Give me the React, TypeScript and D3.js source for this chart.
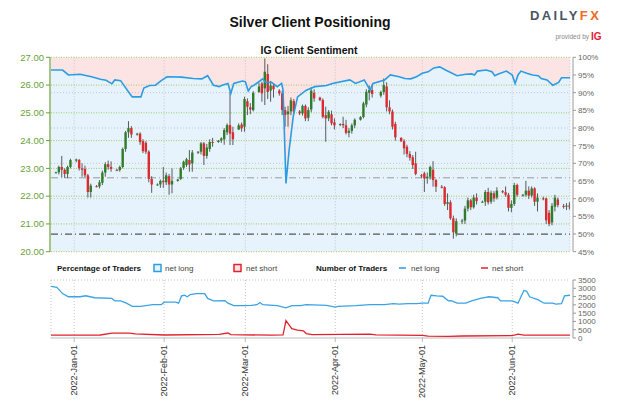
import React from 'react';
import * as d3 from 'd3';

// [date, open, high, low, close]
const candles: [string, number, number, number, number][] = [
  ['2021-12-26', 22.85, 22.88, 22.82, 22.86], ['2021-12-27', 22.86, 23.10, 22.78, 23.05], ['2021-12-28', 23.05, 23.45, 22.68, 22.95],
  ['2021-12-29', 22.95, 23.00, 22.65, 22.80], ['2021-12-30', 22.80, 23.10, 22.65, 23.05], ['2021-12-31', 23.05, 23.35, 23.00, 23.30],
  ['2022-01-02', 23.28, 23.35, 23.22, 23.32], ['2022-01-03', 23.30, 23.34, 22.92, 23.00], ['2022-01-04', 23.00, 23.18, 22.70, 22.95],
  ['2022-01-05', 22.98, 23.10, 22.68, 22.75], ['2022-01-06', 22.75, 22.80, 21.95, 22.15], ['2022-01-07', 22.15, 22.45, 21.95, 22.38],
  ['2022-01-09', 22.36, 22.40, 22.32, 22.35], ['2022-01-10', 22.35, 22.58, 22.28, 22.50], ['2022-01-11', 22.48, 22.92, 22.40, 22.85],
  ['2022-01-12', 22.85, 23.22, 22.70, 23.15], ['2022-01-13', 23.15, 23.28, 22.95, 23.05], ['2022-01-14', 23.05, 23.25, 22.88, 22.98],
  ['2022-01-16', 22.95, 22.98, 22.90, 22.94], ['2022-01-17', 22.94, 23.10, 22.88, 23.05], ['2022-01-18', 23.05, 23.75, 23.00, 23.70],
  ['2022-01-19', 23.70, 24.35, 23.60, 24.30], ['2022-01-20', 24.30, 24.70, 24.10, 24.45], ['2022-01-21', 24.45, 24.52, 24.10, 24.22],
  ['2022-01-23', 24.22, 24.28, 24.18, 24.25], ['2022-01-24', 24.25, 24.30, 23.85, 23.95], ['2022-01-25', 23.98, 24.05, 23.55, 23.62],
  ['2022-01-26', 23.92, 23.98, 23.52, 23.60], ['2022-01-27', 23.60, 23.65, 22.50, 22.62], ['2022-01-28', 22.62, 22.72, 22.12, 22.42],
  ['2022-01-30', 22.42, 22.46, 22.38, 22.42], ['2022-01-31', 22.42, 22.60, 22.30, 22.55], ['2022-02-01', 22.55, 23.05, 22.30, 22.50],
  ['2022-02-02', 22.50, 22.85, 22.40, 22.75], ['2022-02-03', 22.72, 22.80, 22.05, 22.42], ['2022-02-04', 22.42, 23.00, 22.10, 22.55],
  ['2022-02-06', 22.55, 22.62, 22.52, 22.60], ['2022-02-07', 22.62, 23.05, 22.58, 23.00], ['2022-02-08', 23.02, 23.28, 22.95, 23.24],
  ['2022-02-09', 23.12, 23.38, 23.05, 23.33], ['2022-02-10', 23.30, 23.66, 22.88, 23.14], ['2022-02-11', 23.18, 23.66, 22.88, 23.57],
  ['2022-02-13', 23.57, 23.62, 23.52, 23.60], ['2022-02-14', 23.60, 23.95, 23.50, 23.90], ['2022-02-15', 23.90, 23.95, 23.12, 23.45],
  ['2022-02-16', 23.45, 23.88, 23.35, 23.75], ['2022-02-17', 23.70, 24.05, 23.60, 23.95], ['2022-02-18', 23.95, 24.10, 23.78, 23.92],
  ['2022-02-20', 23.95, 24.02, 23.92, 24.00], ['2022-02-21', 24.00, 24.12, 23.92, 24.08], ['2022-02-22', 24.05, 24.45, 23.85, 24.38],
  ['2022-02-23', 24.30, 24.62, 24.20, 24.56], ['2022-02-24', 24.56, 25.76, 23.84, 24.25], ['2022-02-25', 24.30, 24.50, 23.84, 24.05],
  ['2022-02-27', 24.40, 24.62, 24.38, 24.55], ['2022-02-28', 24.58, 24.65, 24.32, 24.44], ['2022-03-01', 24.50, 25.58, 24.32, 25.50],
  ['2022-03-02', 25.42, 25.52, 24.92, 25.22], ['2022-03-03', 25.20, 25.35, 24.95, 25.12], ['2022-03-04', 25.10, 25.78, 25.05, 25.72],
  ['2022-03-06', 25.75, 26.08, 25.72, 25.95], ['2022-03-07', 26.06, 26.12, 25.40, 25.70], ['2022-03-08', 25.88, 26.96, 25.28, 26.48],
  ['2022-03-09', 26.40, 26.75, 25.50, 25.75], ['2022-03-10', 25.80, 26.15, 25.40, 25.98], ['2022-03-11', 25.98, 26.05, 25.55, 25.85],
  ['2022-03-13', 25.80, 25.85, 25.62, 25.70], ['2022-03-14', 25.70, 25.80, 24.92, 25.10], ['2022-03-15', 25.10, 25.22, 24.50, 24.92],
  ['2022-03-16', 24.95, 25.25, 24.50, 25.05], ['2022-03-17', 25.05, 25.55, 24.92, 25.45], ['2022-03-18', 25.42, 25.50, 24.95, 25.05],
  ['2022-03-20', 25.05, 25.10, 24.92, 24.98], ['2022-03-21', 24.98, 25.30, 24.90, 25.25], ['2022-03-22', 25.25, 25.30, 24.70, 24.80],
  ['2022-03-23', 24.82, 25.20, 24.70, 25.10], ['2022-03-24', 25.12, 25.92, 25.02, 25.80], ['2022-03-25', 25.72, 25.85, 25.40, 25.52],
  ['2022-03-27', 25.55, 25.58, 25.42, 25.46], ['2022-03-28', 25.46, 25.52, 24.80, 24.86], ['2022-03-29', 24.92, 25.22, 23.96, 24.80],
  ['2022-03-30', 24.80, 25.10, 24.70, 25.04], ['2022-03-31', 24.95, 25.08, 24.55, 24.62], ['2022-04-01', 24.66, 24.80, 24.40, 24.55],
  ['2022-04-03', 24.58, 24.62, 24.52, 24.60], ['2022-04-04', 24.60, 24.86, 24.45, 24.55], ['2022-04-05', 24.55, 24.75, 24.22, 24.28],
  ['2022-04-06', 24.28, 24.45, 24.12, 24.35], ['2022-04-07', 24.35, 24.62, 24.25, 24.55], ['2022-04-08', 24.55, 24.80, 24.45, 24.75],
  ['2022-04-10', 24.75, 24.88, 24.72, 24.85], ['2022-04-11', 24.85, 25.40, 24.80, 25.34], ['2022-04-12', 25.30, 25.85, 25.20, 25.76],
  ['2022-04-13', 25.72, 25.98, 25.45, 25.82], ['2022-04-14', 25.82, 26.00, 25.55, 25.68],
  ['2022-04-17', 25.62, 25.80, 25.55, 25.75], ['2022-04-18', 25.75, 26.24, 25.65, 26.00], ['2022-04-19', 25.95, 26.10, 25.05, 25.20],
  ['2022-04-20', 25.20, 25.45, 24.95, 25.05], ['2022-04-21', 25.05, 25.12, 24.40, 24.50], ['2022-04-22', 24.60, 24.68, 24.00, 24.12],
  ['2022-04-24', 24.10, 24.12, 23.95, 23.98], ['2022-04-25', 23.98, 24.05, 23.50, 23.72], ['2022-04-26', 23.78, 23.85, 23.40, 23.52],
  ['2022-04-27', 23.52, 23.62, 23.28, 23.38], ['2022-04-28', 23.40, 23.48, 22.98, 23.12], ['2022-04-29', 23.18, 23.60, 22.75, 22.80],
  ['2022-05-01', 22.75, 22.80, 22.65, 22.72], ['2022-05-02', 22.82, 22.88, 22.15, 22.64], ['2022-05-03', 22.64, 22.85, 22.45, 22.70],
  ['2022-05-04', 22.70, 23.10, 22.60, 23.05], ['2022-05-05', 22.95, 23.26, 22.34, 22.58], ['2022-05-06', 22.58, 22.62, 22.15, 22.34],
  ['2022-05-08', 22.34, 22.40, 22.28, 22.32], ['2022-05-09', 22.32, 22.36, 21.65, 21.72], ['2022-05-10', 21.72, 22.10, 21.50, 21.78],
  ['2022-05-11', 21.78, 21.85, 21.15, 21.20], ['2022-05-12', 21.20, 21.30, 20.47, 20.70], ['2022-05-13', 20.65, 21.20, 20.55, 21.10],
  ['2022-05-15', 21.10, 21.18, 21.00, 21.12], ['2022-05-16', 21.12, 21.65, 21.00, 21.55], ['2022-05-17', 21.55, 21.95, 21.45, 21.85],
  ['2022-05-18', 21.85, 21.90, 21.50, 21.60], ['2022-05-19', 21.60, 22.05, 21.55, 21.95], ['2022-05-20', 21.95, 22.10, 21.70, 21.82],
  ['2022-05-22', 21.80, 21.84, 21.76, 21.80], ['2022-05-23', 21.80, 22.22, 21.65, 22.15], ['2022-05-24', 22.15, 22.30, 21.70, 21.78],
  ['2022-05-25', 21.80, 22.20, 21.72, 22.12], ['2022-05-26', 22.10, 22.18, 21.80, 21.92], ['2022-05-27', 21.95, 22.32, 21.88, 22.20],
  ['2022-05-29', 22.18, 22.22, 22.10, 22.14], ['2022-05-30', 22.14, 22.35, 21.98, 22.05], ['2022-05-31', 22.05, 22.12, 21.45, 21.58],
  ['2022-06-01', 21.58, 21.85, 21.42, 21.72], ['2022-06-02', 21.72, 22.48, 21.65, 22.40], ['2022-06-03', 22.40, 22.45, 21.98, 22.05],
  ['2022-06-05', 22.02, 22.08, 21.98, 22.05], ['2022-06-06', 22.05, 22.55, 21.98, 22.20], ['2022-06-07', 22.20, 22.35, 21.90, 22.02],
  ['2022-06-08', 22.02, 22.35, 21.95, 22.28], ['2022-06-09', 22.28, 22.32, 21.65, 21.80], ['2022-06-10', 21.80, 22.10, 21.45, 21.95],
  ['2022-06-12', 21.92, 21.98, 21.85, 21.90], ['2022-06-13', 21.92, 21.95, 21.00, 21.13], ['2022-06-14', 21.40, 21.50, 20.92, 21.00],
  ['2022-06-15', 21.05, 21.75, 20.95, 21.65], ['2022-06-16', 21.62, 22.05, 21.45, 21.95], ['2022-06-17', 21.88, 21.95, 21.60, 21.68],
  ['2022-06-19', 21.65, 21.72, 21.55, 21.62], ['2022-06-20', 21.62, 21.75, 21.50, 21.66], ['2022-06-21', 21.66, 21.78, 21.52, 21.62],
];

// % of traders net long
const sentiment: [string, number][] = [
  ['2021-12-24', 96.4], ['2021-12-28', 96.4], ['2021-12-30', 95.0], ['2022-01-03', 95.2], ['2022-01-07', 94.5],
  ['2022-01-10', 93.8], ['2022-01-12', 93.5], ['2022-01-14', 92.5], ['2022-01-15', 93.6], ['2022-01-17', 93.4],
  ['2022-01-18', 92.2], ['2022-01-20', 89.9], ['2022-01-21', 88.8], ['2022-01-24', 88.8], ['2022-01-25', 91.3],
  ['2022-01-27', 92.0], ['2022-01-29', 92.1], ['2022-01-31', 93.4], ['2022-02-02', 94.5], ['2022-02-07', 94.4],
  ['2022-02-11', 94.0], ['2022-02-14', 93.9], ['2022-02-16', 94.8], ['2022-02-18', 92.1], ['2022-02-20', 91.7],
  ['2022-02-21', 92.1], ['2022-02-23', 92.6], ['2022-02-24', 89.8], ['2022-02-25', 92.6], ['2022-02-28', 93.3],
  ['2022-03-01', 93.1], ['2022-03-02', 90.5], ['2022-03-03', 91.7], ['2022-03-04', 92.1], ['2022-03-06', 93.3],
  ['2022-03-07', 93.9], ['2022-03-08', 92.9], ['2022-03-10', 92.9], ['2022-03-12', 91.7], ['2022-03-13T12', 92.6],
  ['2022-03-14', 90.7], ['2022-03-15', 64.3], ['2022-03-16T02', 73.7], ['2022-03-17T12', 83.2], ['2022-03-19', 88.8],
  ['2022-03-22', 90.7], ['2022-03-25', 91.7], ['2022-03-29', 92.0], ['2022-03-31', 92.6], ['2022-04-06', 93.6],
  ['2022-04-08', 92.6], ['2022-04-11', 93.6], ['2022-04-13', 90.7], ['2022-04-14', 92.6], ['2022-04-18', 93.6],
  ['2022-04-20', 95.0], ['2022-04-23', 94.5], ['2022-04-25', 94.0], ['2022-04-27', 93.9], ['2022-04-29', 94.5],
  ['2022-05-01', 95.5], ['2022-05-03', 95.9], ['2022-05-05', 97.0], ['2022-05-07', 97.3], ['2022-05-09', 96.4],
  ['2022-05-13', 94.8], ['2022-05-16', 95.2], ['2022-05-18', 95.3], ['2022-05-19', 95.0], ['2022-05-20', 96.1],
  ['2022-05-23', 96.4], ['2022-05-25', 95.9], ['2022-05-26', 94.8], ['2022-05-27', 95.2], ['2022-05-30', 96.1],
  ['2022-06-01', 95.0], ['2022-06-02', 92.6], ['2022-06-03', 95.0], ['2022-06-04', 96.1], ['2022-06-06', 95.5],
  ['2022-06-08', 95.0], ['2022-06-10', 94.8], ['2022-06-11', 94.0], ['2022-06-13', 93.6], ['2022-06-15', 92.1],
  ['2022-06-17', 92.9], ['2022-06-18', 94.2], ['2022-06-21', 94.2],
];

// number of traders net long
const longTraders: [string, number][] = [
  ['2021-12-24', 3120], ['2021-12-26', 3060], ['2021-12-28', 2680], ['2021-12-30', 2490], ['2022-01-03', 2490],
  ['2022-01-05', 2550], ['2022-01-08', 2430], ['2022-01-14', 2390], ['2022-01-15', 2240], ['2022-01-17', 2240],
  ['2022-01-19', 2100], ['2022-01-21', 1910], ['2022-01-24', 1910], ['2022-01-28', 2010], ['2022-01-31', 2010],
  ['2022-02-01', 2160], ['2022-02-05', 2160], ['2022-02-06', 2100], ['2022-02-07', 2540], ['2022-02-08', 2580],
  ['2022-02-09', 2490], ['2022-02-10', 2620], ['2022-02-12', 2680], ['2022-02-15', 2680], ['2022-02-16', 2390],
  ['2022-02-18', 2240], ['2022-02-22', 2260], ['2022-02-23', 2100], ['2022-02-25', 1950], ['2022-03-01', 1950],
  ['2022-03-03', 1970], ['2022-03-05', 2010], ['2022-03-06', 2140], ['2022-03-07', 2010], ['2022-03-12', 1950],
  ['2022-03-15', 1820], ['2022-03-17', 1950], ['2022-03-20', 1950], ['2022-03-22', 2010], ['2022-03-29', 1970],
  ['2022-04-01', 1860], ['2022-04-02', 1910], ['2022-04-08', 1950], ['2022-04-13', 2010], ['2022-04-18', 2010],
  ['2022-04-21', 2070], ['2022-04-23', 2050], ['2022-04-26', 2070], ['2022-04-29', 2070], ['2022-05-01', 2100],
  ['2022-05-03', 2100], ['2022-05-04', 2580], ['2022-05-06', 2540], ['2022-05-08', 2520], ['2022-05-10', 2240],
  ['2022-05-11', 2260], ['2022-05-13', 2100], ['2022-05-16', 2100], ['2022-05-18', 2240], ['2022-05-21', 2390],
  ['2022-05-24', 2490], ['2022-05-27', 2430], ['2022-05-28', 2240], ['2022-06-01', 2240], ['2022-06-03', 2100],
  ['2022-06-05', 2870], ['2022-06-06', 2820], ['2022-06-07', 2490], ['2022-06-10', 2300], ['2022-06-12', 2100],
  ['2022-06-15', 2100], ['2022-06-16', 2050], ['2022-06-18', 2070], ['2022-06-19', 2540], ['2022-06-21', 2580],
];

// number of traders net short
const shortTraders: [string, number][] = [
  ['2021-12-24', 170], ['2022-01-10', 180], ['2022-01-14', 290], ['2022-01-20', 300], ['2022-01-22', 250],
  ['2022-02-01', 180], ['2022-02-20', 220], ['2022-02-23', 300], ['2022-02-24', 200], ['2022-03-10', 170],
  ['2022-03-14', 190], ['2022-03-15', 1050], ['2022-03-16', 800], ['2022-03-17', 560], ['2022-03-19', 480],
  ['2022-03-21', 430], ['2022-03-22', 270], ['2022-03-24', 200], ['2022-04-13', 230], ['2022-04-15', 190],
  ['2022-05-01', 160], ['2022-05-03', 110], ['2022-05-10', 100], ['2022-05-15', 120], ['2022-06-01', 140],
  ['2022-06-03', 230], ['2022-06-05', 170], ['2022-06-21', 170],
];

const priceTicks = [20, 21, 22, 23, 24, 25, 26, 27];
const pctTicks = [45, 50, 55, 60, 65, 70, 75, 80, 85, 90, 95, 100];
const pctGrid = [60, 70, 80, 90];
const traderTicks = [0, 500, 1000, 1500, 2000, 2500, 3000, 3500];
const refPrice = 22.66;
const refPct = 50;

const FONT = '"Liberation Sans", Arial, sans-serif';

const pd = (s: string) => {
  const [d, t] = s.split('T');
  const [y, m, dd] = d.split('-').map(Number);
  return new Date(y, m - 1, dd, t ? Number(t) : 0);
};

export default function App() {
  const X0 = 51, X1 = 570, MT = 57.3, MB = 251.7, BT = 280, BB = 338, AX = 573;
  const x = d3.scaleTime().domain([new Date(2021, 11, 24), new Date(2022, 5, 20, 22)]).range([X0, X1]);
  const yP = d3.scaleLinear().domain([20, 27]).range([MB, MT]);
  const yS = d3.scaleLinear().domain([45, 100]).range([MB, MT]);
  const yT = d3.scaleLinear().domain([0, 3500]).range([BB, BT]);
  const months = x.ticks(d3.timeMonth.every(1)!);
  const fmt = d3.timeFormat('%Y-%b-%d');
  const cx = (s: string) => x(new Date(pd(s).getTime() - 7 * 3600e3));

  const area = d3.area<[string, number]>().x((d) => x(pd(d[0]))).y0(MB).y1((d) => yS(d[1]));
  const sLine = d3.line<[string, number]>().x((d) => x(pd(d[0]))).y((d) => yS(d[1]));
  const tLine = d3.line<[string, number]>().x((d) => x(pd(d[0]))).y((d) => yT(d[1]));

  const green = '#6a9f3a';
  return (
    <div style={{ position: 'absolute', left: 0, top: 0 }}>
      <svg width={624} height={416} style={{ display: 'block', background: '#fff', fontFamily: FONT }}>
        <defs>
          <clipPath id="mclip"><rect x={X0} y={MT} width={X1 - X0} height={MB - MT} /></clipPath>
          <clipPath id="bclip"><rect x={X0} y={BT - 2} width={X1 - X0} height={BB - BT + 2} /></clipPath>
        </defs>
        {/* titles */}
        <text x={310} y={27} textAnchor="middle" fontSize={14} fontWeight="bold" fill="#111">Silver Client Positioning</text>
        <text x={309} y={54} textAnchor="middle" fontSize={10.5} fontWeight="bold" fill="#111">IG Client Sentiment</text>
        <text x={530} y={20} fontSize={13} fontWeight="bold" letterSpacing={2.4}>
          <tspan fill="#4a5563">DAILY</tspan><tspan fill="#f26a22">FX</tspan>
        </text>
        <text x={589} y={39} textAnchor="end" fontSize={6.5} fill="#888">provided by</text>
        <text x={591} y={40} fontSize={10} fontWeight="bold" fill="#e3202b">IG</text>

        {/* main panel background */}
        <g clipPath="url(#mclip)">
          <rect x={X0} y={MT} width={X1 - X0} height={MB - MT} fill="#fde4e4" />
          <path d={area(sentiment) || ''} fill="#e6f3fc" />
        </g>
        {pctGrid.map((p) => (
          <line key={'pg' + p} x1={X0} x2={X1} y1={yS(p)} y2={yS(p)} stroke="#c4c4c4" strokeDasharray="1,2" />
        ))}
        {months.map((m) => (
          <line key={'mv' + m.getTime()} x1={x(m)} x2={x(m)} y1={MT} y2={MB} stroke="#c4c4c4" strokeDasharray="1,2" />
        ))}
        {priceTicks.map((p) => (
          <line key={'prg' + p} x1={X0} x2={X1} y1={yP(p)} y2={yP(p)} stroke="#9cc96b" strokeDasharray="1,1.5" />
        ))}
        <line x1={X1} x2={X1} y1={MT} y2={MB} stroke="#c4c4c4" strokeDasharray="1,2" />
        <line x1={X0} x2={X1} y1={yP(refPrice)} y2={yP(refPrice)} stroke="#9a9a9a" strokeDasharray="7,3,1,3" />
        <line x1={X0} x2={X1} y1={yS(refPct)} y2={yS(refPct)} stroke="#555" strokeWidth={1.2} strokeDasharray="7,3,1,3" />

        {/* candles */}
        <g clipPath="url(#mclip)">
          {candles.map(([d, o, h, l, c]) => {
            const xc = cx(d);
            const up = c >= o;
            const top = yP(Math.max(o, c));
            const bh = Math.max(1, Math.abs(yP(o) - yP(c)));
            return (
              <g key={d}>
                <line x1={xc} x2={xc} y1={yP(h)} y2={yP(l)} stroke="#5a5a5a" strokeWidth={1} />
                <rect x={xc - 1.2} y={top} width={2.4} height={bh} fill={up ? '#2f7d2a' : '#dc2a2f'} />
              </g>
            );
          })}
          <path d={sLine(sentiment) || ''} fill="none" stroke="#2a9de2" strokeWidth={1.6} />
        </g>

        {/* left axis */}
        <line x1={50} x2={50} y1={MT} y2={MB} stroke={green} strokeWidth={1.2} />
        {priceTicks.map((p) => (
          <g key={'lt' + p}>
            <line x1={46} x2={50} y1={yP(p)} y2={yP(p)} stroke={green} />
            <text x={44} y={yP(p) + 3.3} textAnchor="end" fontSize={9.5} fill={green}>{p.toFixed(2)}</text>
          </g>
        ))}
        {/* right axis */}
        <line x1={AX} x2={AX} y1={MT} y2={MB} stroke="#999" />
        {pctTicks.map((p) => (
          <g key={'rt' + p}>
            <line x1={AX} x2={AX + 3} y1={yS(p)} y2={yS(p)} stroke="#999" />
            <text x={AX + 5} y={yS(p) + 3} fontSize={8} fill="#666">{p}%</text>
          </g>
        ))}

        {/* legend */}
        <g fontSize={8} fill="#444">
          <text x={57} y={271} fontWeight="bold" fill="#111">Percentage of Traders</text>
          <rect x={154} y={264.5} width={7} height={7} fill="#e6f3fc" stroke="#2a9de2" strokeWidth={1.5} />
          <text x={165} y={271}>net long</text>
          <rect x={234} y={264.5} width={7} height={7} fill="#fde4e4" stroke="#e3202b" strokeWidth={1.5} />
          <text x={246} y={271}>net short</text>
          <text x={316} y={271} fontWeight="bold" fill="#111">Number of Traders</text>
          <line x1={399} x2={406} y1={268} y2={268} stroke="#2a9de2" strokeWidth={1.5} />
          <text x={411} y={271}>net long</text>
          <line x1={481} x2={488} y1={268} y2={268} stroke="#e3202b" strokeWidth={1.5} />
          <text x={492} y={271}>net short</text>
        </g>

        {/* bottom panel */}
        <line x1={X0} x2={X1} y1={BT} y2={BT} stroke="#c4c4c4" strokeDasharray="1,2" />
        <line x1={X0} x2={X0} y1={BT} y2={BB} stroke="#c4c4c4" strokeDasharray="1,2" />
        {months.map((m) => (
          <line key={'bv' + m.getTime()} x1={x(m)} x2={x(m)} y1={BT} y2={BB} stroke="#c4c4c4" strokeDasharray="1,2" />
        ))}
        <g clipPath="url(#bclip)">
          <path d={tLine(longTraders) || ''} fill="none" stroke="#3aa3e6" strokeWidth={1.3} />
          <path d={tLine(shortTraders) || ''} fill="none" stroke="#e3202b" strokeWidth={1.3} />
        </g>
        <line x1={X0} x2={X1} y1={BB} y2={BB} stroke="#bbb" />
        <line x1={AX} x2={AX} y1={BT} y2={BB} stroke="#999" />
        {traderTicks.map((t) => (
          <g key={'tt' + t}>
            <line x1={AX} x2={AX + 3} y1={yT(t)} y2={yT(t)} stroke="#999" />
            <text x={AX + 5} y={yT(t) + 3} fontSize={8} fill="#666">{t}</text>
          </g>
        ))}
        {months.map((m) => (
          <g key={'xl' + m.getTime()}>
            <line x1={x(m)} x2={x(m)} y1={BB} y2={BB + 4} stroke="#bbb" />
            <text transform={`translate(${x(m) + 3},${BB + 7}) rotate(-90)`} textAnchor="end" fontSize={9} fill="#333">
              {fmt(m)}
            </text>
          </g>
        ))}
      </svg>
    </div>
  );
}
